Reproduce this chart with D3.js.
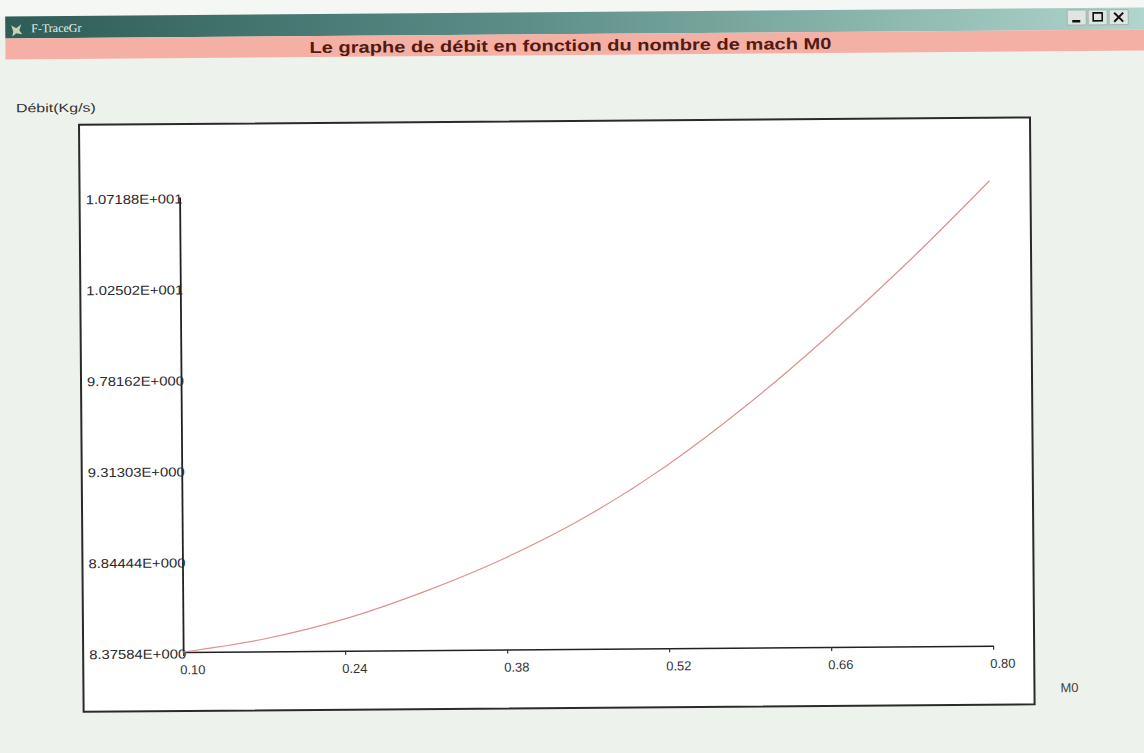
<!DOCTYPE html>
<html>
<head>
<meta charset="utf-8">
<script src="https://cdn.jsdelivr.net/npm/d3@7/dist/d3.min.js"></script>
<style>
  html, body { margin: 0; padding: 0; background: #f5f7f4; }
  svg { display: block; }
</style>
</head>
<body>
<svg id="chart" width="1144" height="753"></svg>
<script>
// Mach number M0 and mass flow rate (kg/s)
const mach  = [0.10, 0.17, 0.24, 0.31, 0.38, 0.45, 0.52, 0.59, 0.66, 0.73, 0.80];
const debit = [8.376, 8.44, 8.54, 8.68, 8.85, 9.06, 9.32, 9.63, 9.98, 10.36, 10.77];

// Axis ticks
const xTicks = [0.10, 0.24, 0.38, 0.52, 0.66, 0.80];
const yTicks = [8.37584, 8.84444, 9.31303, 9.78162, 10.2502, 10.7188];
const yTickLabels = ["8.37584E+000", "8.84444E+000", "9.31303E+000",
                     "9.78162E+000", "1.02502E+001", "1.07188E+001"];

const windowTitle = "F-TraceGr";
const chartTitle = "Le graphe de débit  en fonction du nombre de mach M0";
const yLabel = "Débit(Kg/s)";
const xLabel = "M0";

const svg = d3.select("#chart");
const W = 1144, H = 753;
const font = "'Liberation Sans', Arial, sans-serif";

const defs = svg.append("defs");
const grad = defs.append("linearGradient").attr("id", "titlebar")
  .attr("x1", "0%").attr("x2", "100%");
grad.append("stop").attr("offset", "0%").attr("stop-color", "#2e5c57");
grad.append("stop").attr("offset", "45%").attr("stop-color", "#5d8f88");
grad.append("stop").attr("offset", "100%").attr("stop-color", "#b3d8cf");

// whole window, slightly tilted
const root = svg.append("g").attr("transform", "rotate(-0.45 572 376)");

// window background
root.append("rect").attr("x", -20).attr("y", 12).attr("width", W + 40).attr("height", H + 20)
  .attr("fill", "#eef2ed");

// title bar
root.append("rect").attr("x", 8).attr("y", 12).attr("width", W + 20).attr("height", 22)
  .attr("fill", "url(#titlebar)");
// icon
root.append("path").attr("d", "M14,21 l5,3 l5,-4 l-2,6 l3,4 l-6,-1 l-4,3 l1,-5 z")
  .attr("fill", "#dfe8c8").attr("opacity", 0.85);
root.append("text").attr("x", 34).attr("y", 28)
  .attr("font-family", "'Liberation Serif', serif").attr("font-size", 12)
  .attr("fill", "#e8f0ec").text(windowTitle);

// window buttons
const btns = root.append("g").attr("transform", "translate(1070,14)");
[0, 21, 42].forEach(dx => {
  btns.append("rect").attr("x", dx).attr("y", 0).attr("width", 19).attr("height", 15)
    .attr("fill", "#dfe6e2").attr("stroke", "#9aa8a2").attr("stroke-width", 0.8);
});
btns.append("rect").attr("x", 5).attr("y", 10).attr("width", 8).attr("height", 2.5).attr("fill", "#111");
btns.append("rect").attr("x", 26).attr("y", 3).attr("width", 9).attr("height", 8)
  .attr("fill", "none").attr("stroke", "#111").attr("stroke-width", 1.6);
btns.append("path").attr("d", "M47,3 L56,12 M56,3 L47,12")
  .attr("stroke", "#111").attr("stroke-width", 2);

// pink title band
root.append("rect").attr("x", 8).attr("y", 34).attr("width", W + 20).attr("height", 21)
  .attr("fill", "#f5b0a5");
root.append("text").attr("x", 573).attr("y", 51)
  .attr("text-anchor", "middle")
  .attr("font-family", font).attr("font-weight", "bold").attr("font-size", 16)
  .attr("textLength", 522).attr("lengthAdjust", "spacingAndGlyphs")
  .attr("fill", "#521a12").text(chartTitle);

// y label
root.append("text").attr("x", 18).attr("y", 108)
  .attr("font-family", font).attr("font-size", 12)
  .attr("textLength", 80).attr("lengthAdjust", "spacingAndGlyphs")
  .attr("fill", "#333").text(yLabel);

// plot frame
root.append("rect").attr("x", 81).attr("y", 121).attr("width", 951).attr("height", 587)
  .attr("fill", "#ffffff").attr("stroke", "#2a2a2a").attr("stroke-width", 2);

// scales
const x = d3.scaleLinear().domain([0.10, 0.80]).range([181, 991]);
const y = d3.scaleLinear().domain([yTicks[0], yTicks[yTicks.length - 1]]).range([649, 194]);

// x axis
const gx = root.append("g").attr("transform", `translate(0,${y(yTicks[0])})`)
  .call(d3.axisBottom(x).tickValues(xTicks).tickFormat(d3.format(".2f"))
    .tickSizeInner(4).tickSizeOuter(0).tickPadding(9));
gx.select(".domain").attr("stroke", "#222").attr("stroke-width", 1.6);
gx.selectAll(".tick line").attr("stroke", "#333").attr("stroke-width", 1.2);
gx.selectAll(".tick text").attr("font-family", font).attr("font-size", 13)
  .attr("fill", "#333").attr("dx", 9);

// y axis
const gy = root.append("g").attr("transform", `translate(${x(0.10)},0)`)
  .call(d3.axisLeft(y).tickValues(yTicks)
    .tickFormat((d, i) => yTickLabels[i])
    .tickSizeInner(0).tickSizeOuter(0).tickPadding(-3));
gy.select(".domain").attr("stroke", "#222").attr("stroke-width", 1.8);
gy.selectAll(".tick text").attr("font-family", font).attr("font-size", 13)
  .attr("textLength", 97).attr("lengthAdjust", "spacingAndGlyphs")
  .attr("fill", "#2a2a2a").attr("dy", "0.45em");

// x label
root.append("text").attr("x", 1058).attr("y", 696)
  .attr("font-family", font).attr("font-size", 13)
  .attr("fill", "#444").text(xLabel);

// flow-rate curve
const line = d3.line()
  .x((d, i) => x(mach[i]))
  .y(d => y(d))
  .curve(d3.curveMonotoneX);
root.append("path").datum(debit)
  .attr("d", line)
  .attr("fill", "none")
  .attr("stroke", "#dc928e")
  .attr("stroke-width", 1.2);
</script>
</body>
</html>
